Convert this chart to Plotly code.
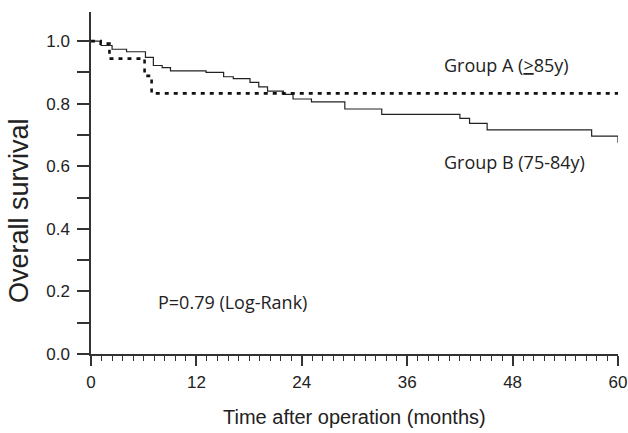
import plotly.graph_objects as go

# Group B (75-84y) - solid
months_b = [0, 1.15, 2.4, 4.05, 6.2, 7.1, 8.1, 9.05, 13.1, 15.1, 16.2, 18.1, 19.1, 20.1,
            21.9, 23.0, 25.1, 28.9, 33.1, 42.0, 43.1, 45.1, 57.0, 60.0]
surv_b = [1.0, 0.986, 0.974, 0.966, 0.948, 0.922, 0.915, 0.905, 0.900, 0.886, 0.880, 0.868,
          0.854, 0.840, 0.830, 0.815, 0.806, 0.783, 0.766, 0.753, 0.737, 0.716, 0.696, 0.675]

# Group A (>=85y) - dotted
months_a = [0, 1.1, 2.1, 6.1, 6.9, 60.0]
surv_a = [1.0, 0.992, 0.944, 0.889, 0.833, 0.833]

y_tickvals = [0.0, 0.1, 0.2, 0.3, 0.4, 0.5, 0.6, 0.7, 0.8, 0.9, 1.0]
y_ticktext = ["0.0", "", "0.2", "", "0.4", "", "0.6", "", "0.8", "", "1.0"]
x_tickvals = [0, 12, 24, 36, 48, 60]
x_ticktext = ["0", "12", "24", "36", "48", "60"]

axis_color = "#333333"
tick_font = dict(family="Liberation Sans, Arial, sans-serif", size=17, color="#222222")
note_font = dict(family="Open Sans, sans-serif", size=18, color="#222222")

fig = go.Figure()
fig.add_trace(go.Scatter(x=months_b, y=surv_b, mode="lines", line_shape="hv",
                         line=dict(color="#222222", width=1.2), name="Group B (75-84y)"))
fig.add_trace(go.Scatter(x=months_a, y=surv_a, mode="lines", line_shape="hv",
                         line=dict(color="#111111", width=2.6, dash="4px,5px"),
                         name="Group A (>=85y)"))

fig.update_layout(
    width=628, height=433, autosize=False,
    margin=dict(l=91, r=10, t=12, b=79),
    paper_bgcolor="white", plot_bgcolor="white",
    showlegend=False,
    xaxis=dict(range=[0, 60], tickvals=x_tickvals, ticktext=x_ticktext, automargin=False,
               showgrid=False, zeroline=False, showline=True, linecolor=axis_color, linewidth=1.5,
               ticks="outside", ticklen=10, tickwidth=1.5, tickcolor=axis_color,
               tickfont=tick_font, ticklabelstandoff=2,
               minor=dict(dtick=1.2, tick0=0, ticks="outside", ticklen=5, tickwidth=1, tickcolor=axis_color)),
    yaxis=dict(range=[0, 1.093], tickvals=y_tickvals, ticktext=y_ticktext, automargin=False,
               showgrid=False, zeroline=False, showline=True, linecolor=axis_color, linewidth=1.5,
               ticks="outside", ticklen=12, tickwidth=1.5, tickcolor=axis_color,
               tickfont=tick_font, ticklabelstandoff=4),
)

fig.add_annotation(text="Time after operation (months)", xref="paper", yref="paper",
                   x=0.5, y=-0.184, xanchor="center", yanchor="middle", showarrow=False,
                   font=dict(family="Liberation Sans, Arial, sans-serif", size=20, color="#222222"))
fig.add_annotation(text="Overall survival", xref="paper", yref="paper",
                   x=-0.1366, y=0.418, xanchor="center", yanchor="middle", showarrow=False,
                   textangle=-90,
                   font=dict(family="Liberation Sans, Arial, sans-serif", size=27, color="#222222"))
fig.add_annotation(text="Group A (<u>></u>85y)", x=40.0, y=0.925, xanchor="left", yanchor="middle",
                   showarrow=False, font=note_font)
fig.add_annotation(text="Group B (75-84y)", x=40.0, y=0.615, xanchor="left", yanchor="middle",
                   showarrow=False, font=note_font)
fig.add_annotation(text="P=0.79 (Log-Rank)", x=7.4, y=0.165, xanchor="left", yanchor="middle",
                   showarrow=False, font=note_font)

fig.write_html("out.html", config={"responsive": False, "displayModeBar": False},
               post_script="document.body.style.margin='0';")
